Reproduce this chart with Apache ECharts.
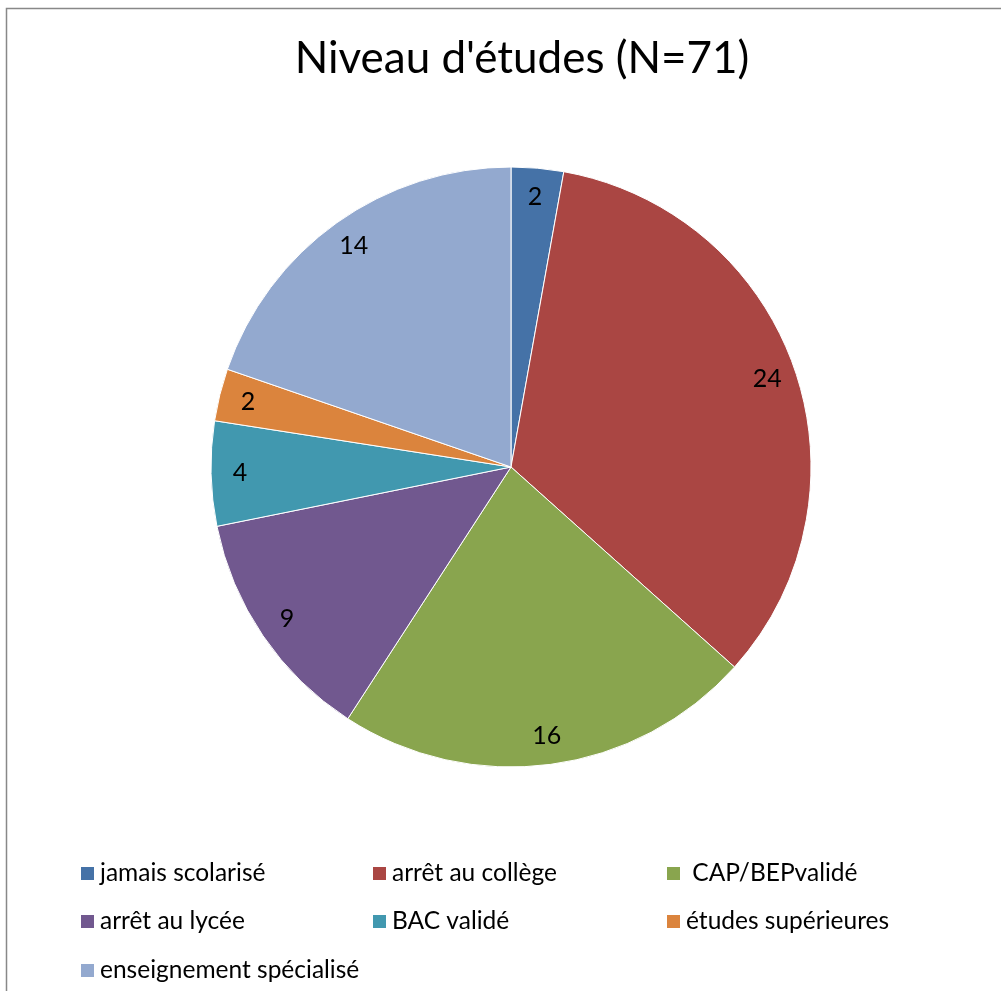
<!DOCTYPE html>
<html>
<head>
<meta charset="utf-8">
<script src="https://cdn.jsdelivr.net/npm/echarts@6/dist/echarts.min.js"></script>
<style>html,body{margin:0;padding:0;background:#fff;}#c{width:1001px;height:991px;}</style>
</head>
<body>
<div id="c"></div>
<script>
const categories = ["jamais scolarisé", "arrêt au collège", " CAP/BEPvalidé", "arrêt au lycée", "BAC validé", "études supérieures", "enseignement spécialisé"];
const values = [2, 24, 16, 9, 4, 2, 14];
const colors = ["#4572A7", "#AA4643", "#89A54E", "#71588F", "#4198AF", "#DB843D", "#93A9CF"];
const titleText = "Niveau d'études (N=71)";

const data = categories.map((c, i) => ({ name: c, value: values[i], itemStyle: { color: colors[i] } }));
const font = "Lato, 'Open Sans', sans-serif";
const colLefts = [79, 371, 665];
const rowTops = [861, 909, 958];

const chart = echarts.init(document.getElementById('c'), null, { renderer: 'canvas' });
chart.setOption({
  animation: false,
  color: colors,
  title: {
    text: titleText, left: 517, top: 32, textAlign: 'center',
    textStyle: { fontFamily: font, fontSize: 44, fontWeight: 'normal', color: '#000' }
  },
  graphic: [{
    type: 'rect', shape: { x: 6.5, y: 8.5, width: 1200, height: 1200 },
    style: { fill: 'none', stroke: '#888', lineWidth: 1.5 }, silent: true
  }],
  legend: categories.map((name, i) => ({
    data: [name], left: colLefts[i % 3], top: rowTops[Math.floor(i / 3)], padding: 0,
    itemWidth: 15, itemHeight: 15, itemGap: 0, icon: 'rect',
    textStyle: { fontFamily: font, fontSize: 24.5, color: '#000' },
    selectedMode: false
  })),
  series: [{
    type: 'pie', center: [511, 467], radius: [0, 300], startAngle: 90, clockwise: true,
    data: data, label: { show: false }, labelLine: { show: false },
    itemStyle: { borderColor: '#fff', borderWidth: 1 }, silent: true
  }, {
    type: 'pie', center: [511, 467], radius: [236, 300], startAngle: 90, clockwise: true,
    data: data.map(d => ({ name: d.name, value: d.value, itemStyle: { color: 'rgba(0,0,0,0)' } })),
    label: { show: true, position: 'inside', formatter: '{c}', fontFamily: font, fontSize: 25, color: '#000' },
    labelLine: { show: false }, itemStyle: { borderWidth: 0 }, silent: true, legendHoverLink: false
  }]
});
</script>
</body>
</html>
